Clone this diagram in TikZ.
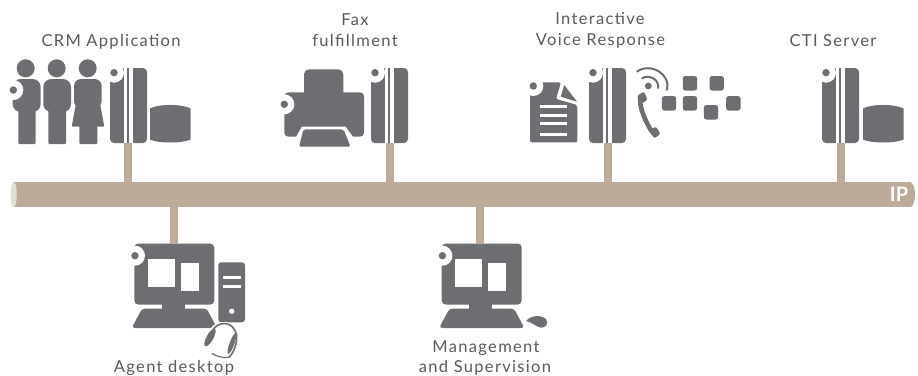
\documentclass[tikz,border=0pt]{standalone}
\usepackage{fontspec}
\setmainfont{Lato}
\newfontfamily\lblfont[LetterSpace=8]{Lato}
\definecolor{icongrey}{HTML}{6D6E71}
\definecolor{tan}{HTML}{BBAB98}
\definecolor{barend}{HTML}{E3DED5}
\definecolor{labelgrey}{HTML}{58595B}
\tikzset{
  ic/.style={fill=icongrey,draw=none},
  wh/.style={fill=white,draw=none},
  srvbox/.style={ic,rectangle,rounded corners=4pt,minimum width=37pt,minimum height=75pt,inner sep=0pt,outer sep=0pt},
  busbar/.style={fill=tan,draw=none,rectangle,minimum width=897pt,minimum height=25pt,inner sep=0pt,outer sep=0pt},
  stub/.style={draw=tan,line width=8pt},
  lbl/.style={text=labelgrey,font=\lblfont\fontsize{16.5pt}{19pt}\selectfont,inner sep=0pt,anchor=base},
  monitorbox/.style={ic,rectangle,rounded corners=4pt,minimum width=80pt,minimum height=61pt,inner sep=0pt,outer sep=0pt},
}
% white ring with grey dot
\newcommand\ringdot[2]{\fill[wh] (#1,#2) circle (10pt);\fill[ic] (#1,#2) circle (3.7pt);}
% server: name, left x
\newcommand\server[2]{%
  \node[srvbox] (#1) at (#2+18.5,105.5) {};
  \ringdot{#2+4}{72.7}
  \fill[wh] (#2+13.5,67) rectangle (#2+16.7,144);
  \fill[wh] (#2+19.3,67) rectangle (#2+22.5,144);
}
% cylinder: left x
\newcommand\dbcyl[1]{%
  \fill[ic] (#1,108.5) .. controls (#1+8,103.8) and (#1+32,103.8) .. (#1+40.5,108.5)
    -- (#1+40.5,139.5) .. controls (#1+32,143.5) and (#1+8,143.5) .. (#1,139.5) -- cycle;
}
% monitor: name, dx
\newcommand\monitor[2]{%
  \node[monitorbox] (#1) at (#2+174.3,274) {};
  \ringdot{#2+135}{255.7}
  \fill[wh] (#2+147.7,259) rectangle (#2+175,286.7);
  \fill[wh] (#2+181,263) rectangle (#2+199,291);
  \fill[ic] (#2+161.7,303) rectangle (#2+185,310);
  \fill[ic,rounded corners=3pt] (#2+142,308.7) -- (#2+206.7,308.7) -- (#2+217,328) -- (#2+131.7,328) -- cycle;
}
\begin{document}
\begin{tikzpicture}[x=1pt,y=-1pt]
\useasboundingbox (0,0) rectangle (918,375);
% bus
\node[busbar] (bar) at (462.5,194.5) {};
\fill[tan] (910,182) .. controls (913,182) and (915,188) .. (915,194.5) .. controls (915,201) and (913,207) .. (910,207) -- cycle;
\fill[barend] (13.7,182) .. controls (11.5,182) and (10.7,188) .. (10.7,194.5) .. controls (10.7,201) and (11.5,207) .. (13.7,207) .. controls (16,207) and (16.7,201) .. (16.7,194.5) .. controls (16.7,188) and (16,182) .. (13.7,182) -- cycle;
\node[inner sep=0pt,text=white,font=\fontsize{20pt}{20pt}\selectfont\bfseries,anchor=base] (ip) at (899,201.7) {IP};
% servers
\server{crm}{110}
\server{fax}{371}
\server{ivr}{589}
\server{cti}{822}
% monitors
\monitor{agent}{0}
\monitor{mgmt}{307.4}
% connectors
\draw[stub] ([xshift=-0.5pt]crm.south) -- ([xshift=-0.5pt]crm.south |- bar.north);
\draw[stub] (fax.south) -- (fax.south |- bar.north);
\draw[stub] (ivr.south) -- (ivr.south |- bar.north);
\draw[stub] (cti.south) -- (cti.south |- bar.north);
\draw[stub] (bar.south -| agent.north) -- (agent.north);
\draw[stub] ([xshift=-1.7pt]bar.south -| mgmt.north) -- ([xshift=-1.7pt]mgmt.north);
% people
\fill[ic] (25.7,68.3) circle (9pt);
\fill[ic,rounded corners=8pt] (12.7,79) rectangle (40.7,112);
\fill[ic,rounded corners=1pt] (18.3,100) rectangle (35.7,144);
\ringdot{13.3}{90}
\fill[ic] (56.7,68.3) circle (9pt);
\fill[ic,rounded corners=8pt] (43.3,79) rectangle (71,112);
\fill[ic,rounded corners=1pt] (48.3,100) rectangle (66,144);
\fill[ic] (87.7,68.3) circle (9pt);
\fill[ic,rounded corners=7pt] (74,79) rectangle (101.7,108);
\fill[ic,rounded corners=1pt] (77,98) -- (99,98) -- (104.3,126.7) -- (71.7,126.7) -- cycle;
\fill[ic,rounded corners=1pt] (79.3,120) rectangle (97.3,144);
% databases
\dbcyl{150}
\dbcyl{863}
% printer
\fill[ic,rounded corners=5pt] (304,69.3) rectangle (343.3,100);
\fill[ic,rounded corners=4pt] (284.3,92.3) rectangle (364,136.7);
\ringdot{284.3}{104.3}
\fill[wh] (302,126.5) -- (345.5,126.5) -- (353,137) -- (296,137) -- cycle;
\fill[ic,rounded corners=2pt] (303.5,129.3) -- (343.5,129.3) -- (350.5,146.7) -- (299,146.7) -- cycle;
% document
\fill[ic,rounded corners=2pt] (530,82.3) -- (561,82.3) -- (556,99) -- (577.3,105) -- (577.3,142.3) -- (530,142.3) -- cycle;
\fill[ic] (564.3,85) -- (577,101.7) -- (560.7,96.7) -- cycle;
\ringdot{533.3}{86}
\fill[wh] (540,105) rectangle (566.7,108);
\fill[wh] (540,113.5) rectangle (566.7,116.7);
\fill[wh] (540,122) rectangle (566.7,125);
\fill[wh] (540,132.7) rectangle (566.7,136);
% phone
\draw[icongrey,line width=4.6pt,line cap=round] (641,97) .. controls (637,104) and (648,128) .. (654,134);
\fill[ic,rounded corners=1.5pt] (637,96) -- (644,91.5) -- (647.5,100) -- (640,104.5) -- cycle;
\fill[ic,rounded corners=1.5pt] (650,130) -- (656,126.5) -- (660.5,134) -- (654,138.5) -- cycle;
\fill[ic] (648.3,86) circle (3.4pt);
\draw[icongrey,line width=2pt] (641.7,78.5) .. controls (648,74) and (660,79) .. (658,88.5);
\draw[icongrey,line width=2pt] (636.7,71.7) .. controls (650,62) and (672,74) .. (666.5,90.5);
% keypad
\foreach \kx/\ky in {690/83.3,716.7/83.3,669/103.3,690/103.3,711/112.3,733.3/103.3}
  \fill[ic,rounded corners=2.5pt] (\kx-7.2,\ky-7.2) rectangle (\kx+7.2,\ky+7.2);
% tower
\fill[ic,rounded corners=3pt] (218.3,262.3) rectangle (245,322.3);
\fill[wh] (223.3,276) rectangle (241,279);
\fill[wh] (223.3,285) rectangle (241,288);
\fill[wh] (231.7,311.3) circle (2.7pt);
% headset
\draw[draw=white,line width=4pt] (212,330) .. controls (216,322) and (234,320) .. (236.7,336);
\draw[icongrey,line width=1.6pt] (213,330) .. controls (218,321) and (234,320) .. (236.7,336) .. controls (237,345) and (233,354) .. (228.5,357.5);
\draw[icongrey,line width=1.2pt] (228.5,357.5) .. controls (222,358) and (216,356) .. (211.7,353.3);
\fill[ic,rotate around={-29:(210,337.5)}] (210,337.5) ellipse (3.4pt and 10pt);
\fill[ic,rotate around={-20:(232,343.5)}] (232,343.5) ellipse (2.4pt and 11pt);
% mouse
\fill[ic] (526,321) .. controls (530,316) and (540,314) .. (546,319) .. controls (549,323) and (546,328) .. (541,327.7) .. controls (536,327) and (532,322) .. (526,321) -- cycle;
% labels
\node[lbl] (tcrm) at (111,46.7) {CRM Application};
\node[lbl] (tfax) at (355,25.5) {Fax};
\node[lbl] (tful) at (355,46) {fulfillment};
\node[lbl] (tint) at (600,24.5) {Interactive};
\node[lbl] (tvoi) at (600.5,45.5) {Voice Response};
\node[lbl] (tcti) at (833,46.7) {CTI Server};
\node[lbl] (tage) at (174,372) {Agent desktop};
\node[lbl] (tman) at (486,352.7) {Management};
\node[lbl] (tsup) at (485,372) {and Supervision};
\end{tikzpicture}
\end{document}
